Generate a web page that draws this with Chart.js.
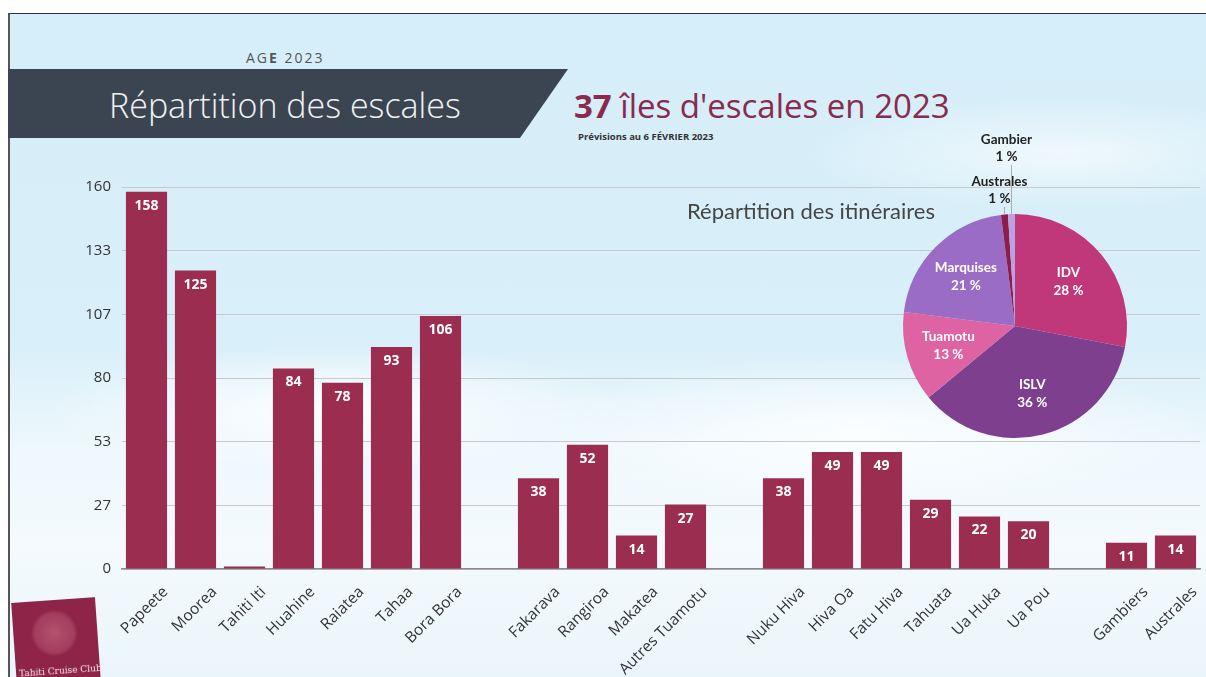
<!DOCTYPE html>
<html>
<head>
<meta charset="utf-8">
<script src="https://cdn.jsdelivr.net/npm/chart.js@4"></script>
<style>
  html, body { margin: 0; padding: 0; background: #fff; }
  #page {
    position: absolute; left: 8px; top: 13px; width: 1198px; height: 664px;
    border-left: 2px solid #555; border-top: 1px solid #333; box-sizing: border-box;
    overflow: hidden;
    background:
      radial-gradient(ellipse 420px 90px at 330px 395px, rgba(255,255,255,0.9), rgba(255,255,255,0) 70%),
      radial-gradient(ellipse 500px 110px at 850px 420px, rgba(255,255,255,0.85), rgba(255,255,255,0) 70%),
      radial-gradient(ellipse 360px 80px at 1050px 140px, rgba(255,255,255,0.6), rgba(255,255,255,0) 70%),
      linear-gradient(to bottom, #d6eef9 0%, #d9eff9 50%, #eef8fd 66%, #f4fafd 80%, #eaf5fb 100%);
  }
  #banner {
    position: absolute; left: 8px; top: 69px; width: 560px; height: 69px;
    background: #3b4551;
    clip-path: polygon(0 0, 560px 0, 512px 69px, 0 69px);
  }
  .txt { position: absolute; white-space: nowrap; font-family: "Open Sans", sans-serif; }
  #canvasWrap { position: absolute; left: 0; top: 0; width: 1206px; height: 677px; }
  #pieWrap { position: absolute; left: 891px; top: 120px; width: 248px; height: 330px; }
  #logo {
    position: absolute; left: 14px; top: 600px; width: 84px; height: 84px;
    background: #8e2548; transform: rotate(-4deg);
  }
</style>
</head>
<body>
<div id="page"></div>
<div id="banner"></div>
<div class="txt" style="left:246px;top:48px;font-size:14px;color:#555;letter-spacing:2px;">AG<b>E</b> 2023</div>
<div class="txt" style="left:109px;top:82px;font-size:34px;color:#f2f2f2;font-weight:300;">Répartition des escales</div>
<div class="txt" style="left:574px;top:83px;font-size:33px;color:#8a2a4e;"><b>37</b> îles d'escales en 2023</div>
<div class="txt" style="left:578px;top:130px;font-size:9.5px;color:#333;font-weight:700;">Prévisions au 6 FÉVRIER 2023</div>
<div id="canvasWrap"><canvas id="bars"></canvas></div>
<div class="txt" style="left:687px;top:197px;font-size:22px;color:#454545;font-family:Lato,sans-serif;z-index:2;">Répartition des itinéraires</div>
<div id="pieWrap"><canvas id="pie"></canvas></div>
<div id="logo">
  <div style="position:absolute;left:18px;top:10px;width:46px;height:46px;border-radius:50%;background:radial-gradient(circle, #b5526f 0%, #a23d5e 60%, #8e2548 72%);"></div>
  <div class="txt" style="left:3px;top:66px;font-size:9px;color:#f3e6ea;font-family:'DejaVu Serif',serif;">Tahiti Cruise Club</div>
</div>
<script>
// escales par île (vides = séparations entre archipels)
const islands = ['Papeete', 'Moorea', 'Tahiti Iti', 'Huahine', 'Raiatea', 'Tahaa', 'Bora Bora', '',
  'Fakarava', 'Rangiroa', 'Makatea', 'Autres Tuamotu', '',
  'Nuku Hiva', 'Hiva Oa', 'Fatu Hiva', 'Tahuata', 'Ua Huka', 'Ua Pou', '',
  'Gambiers', 'Australes'];
const escales = [158, 125, 1, 84, 78, 93, 106, null,
  38, 52, 14, 27, null,
  38, 49, 49, 29, 22, 20, null,
  11, 14];
const yMax = 160;
const yStep = 160 / 6;

// itinéraires (%)
const routes = ['IDV', 'ISLV', 'Tuamotu', 'Marquises', 'Australes', 'Gambier'];
const routeShare = [28, 36, 13, 21, 1, 1];
const routeColors = ['#c0387a', '#7d3f8e', '#dd63a2', '#9a6cc6', '#8c1d4c', '#bba0e2'];

const barColor = '#9b2d51';

const barLabels = {
  id: 'barLabels',
  afterDatasetsDraw(chart) {
    const ctx = chart.ctx;
    const meta = chart.getDatasetMeta(0);
    ctx.save();
    ctx.fillStyle = '#fff';
    ctx.font = 'bold 14px "Open Sans", sans-serif';
    ctx.textAlign = 'center';
    ctx.textBaseline = 'middle';
    meta.data.forEach((bar, i) => {
      const v = escales[i];
      if (v == null || v < 5) return;
      ctx.fillText(String(v), bar.x, bar.y + 14);
    });
    ctx.restore();
  }
};

new Chart(document.getElementById('bars'), {
  type: 'bar',
  data: {
    labels: islands,
    datasets: [{
      data: escales,
      backgroundColor: barColor,
      categoryPercentage: 1,
      barPercentage: 0.84
    }]
  },
  options: {
    responsive: true,
    maintainAspectRatio: false,
    animation: false,
    events: [],
    layout: { padding: { left: 50, right: 6, top: 187, bottom: 0 } },
    plugins: { legend: { display: false }, tooltip: { enabled: false } },
    scales: {
      x: {
        grid: { display: false },
        border: { color: '#8a8a8a', width: 1.5 },
        ticks: {
          minRotation: 45, maxRotation: 45, autoSkip: false, labelOffset: 19,
          color: '#333', font: { size: 15.5, family: '"Open Sans", sans-serif' }, padding: 6
        },
        afterFit: (s) => { s.height = 108; }
      },
      y: {
        min: 0, max: yMax,
        afterBuildTicks: (s) => {
          const t = [];
          for (let i = 0; i <= 6; i++) t.push({ value: i * yStep });
          s.ticks = t;
        },
        ticks: {
          callback: (v) => Math.round(v),
          color: '#333', font: { size: 15, family: '"Open Sans", sans-serif' }, padding: 11
        },
        grid: { color: '#c9c9c9', drawTicks: false },
        border: { display: false },
        afterFit: (s) => { s.width = 72; }
      }
    }
  },
  plugins: [barLabels]
});

const pieLabels = {
  id: 'pieLabels',
  afterDatasetsDraw(chart) {
    const ctx = chart.ctx;
    const meta = chart.getDatasetMeta(0);
    ctx.save();
    ctx.textAlign = 'center';
    ctx.textBaseline = 'middle';
    ctx.font = 'bold 13.5px Lato, sans-serif';
    meta.data.forEach((arc, i) => {
      const mid = (arc.startAngle + arc.endAngle) / 2;
      const pct = routeShare[i] + ' %';
      if (routeShare[i] >= 5) {
        const r = arc.outerRadius * 0.62;
        const x = arc.x + Math.cos(mid) * r;
        const y = arc.y + Math.sin(mid) * r;
        ctx.fillStyle = '#fff';
        ctx.fillText(routes[i], x, y - 9);
        ctx.fillText(pct, x, y + 9);
      } else {
        // small slices: label above the pie with a leader line
        const ex = arc.x + Math.cos(mid) * arc.outerRadius;
        const ey = arc.y + Math.sin(mid) * arc.outerRadius;
        const lift = i === routes.length - 1 ? 66 : 24;
        const ly = arc.y - arc.outerRadius - lift;
        ctx.strokeStyle = '#aaa';
        ctx.lineWidth = 1;
        ctx.beginPath();
        ctx.moveTo(ex, ey);
        ctx.lineTo(ex, ly + 17);
        ctx.stroke();
        ctx.fillStyle = '#222';
        ctx.fillText(routes[i], ex - 5, ly - 8);
        ctx.fillText(pct, ex - 5, ly + 9);
      }
    });
    ctx.restore();
  }
};

new Chart(document.getElementById('pie'), {
  type: 'pie',
  data: {
    labels: routes,
    datasets: [{ data: routeShare, backgroundColor: routeColors, borderWidth: 0 }]
  },
  options: {
    responsive: true,
    maintainAspectRatio: false,
    animation: false,
    events: [],
    layout: { padding: { left: 12, right: 12, top: 94, bottom: 12 } },
    plugins: { legend: { display: false }, tooltip: { enabled: false } }
  },
  plugins: [pieLabels]
});
</script>
</body>
</html>
